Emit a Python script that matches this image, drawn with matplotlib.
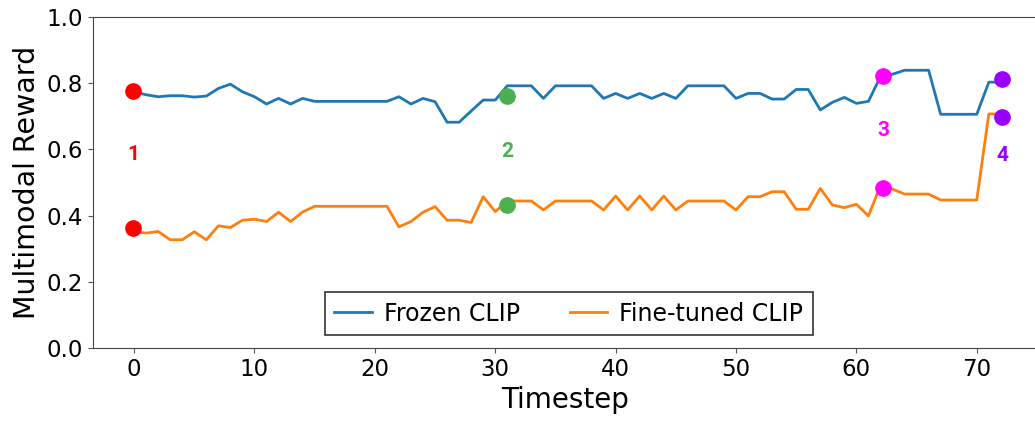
import matplotlib.pyplot as plt

# Multimodal reward per timestep
frozen_clip = [
    0.774, 0.765, 0.759, 0.762, 0.762, 0.758, 0.761, 0.784, 0.797, 0.774,
    0.759, 0.737, 0.754, 0.737, 0.754, 0.745, 0.745, 0.745, 0.745, 0.745,
    0.745, 0.745, 0.759, 0.737, 0.754, 0.744, 0.682, 0.682, 0.716, 0.749,
    0.749, 0.792, 0.792, 0.792, 0.754, 0.792, 0.792, 0.792, 0.792, 0.754,
    0.769, 0.754, 0.769, 0.754, 0.769, 0.754, 0.792, 0.792, 0.792, 0.792,
    0.754, 0.769, 0.769, 0.752, 0.752, 0.781, 0.781, 0.719, 0.742, 0.757,
    0.739, 0.745, 0.820, 0.827, 0.839, 0.839, 0.839, 0.706, 0.706, 0.706,
    0.706, 0.803, 0.803,
]
finetuned_clip = [
    0.352, 0.347, 0.352, 0.327, 0.327, 0.351, 0.327, 0.369, 0.364, 0.386,
    0.389, 0.382, 0.410, 0.382, 0.411, 0.428, 0.428, 0.428, 0.428, 0.428,
    0.428, 0.428, 0.366, 0.382, 0.410, 0.427, 0.386, 0.386, 0.379, 0.457,
    0.412, 0.444, 0.444, 0.444, 0.417, 0.444, 0.444, 0.444, 0.444, 0.417,
    0.459, 0.417, 0.459, 0.417, 0.459, 0.417, 0.444, 0.444, 0.444, 0.444,
    0.417, 0.457, 0.457, 0.472, 0.472, 0.419, 0.419, 0.482, 0.432, 0.424,
    0.434, 0.399, 0.490, 0.480, 0.465, 0.465, 0.465, 0.447, 0.447, 0.447,
    0.447, 0.707, 0.707,
]
timesteps = list(range(len(frozen_clip)))

# highlighted moments
mark_labels = ["1", "2", "3", "4"]
mark_x = [-0.1, 31, 62.2, 72.1]
mark_frozen = [0.775, 0.762, 0.822, 0.812]
mark_finetuned = [0.363, 0.432, 0.482, 0.697]
mark_text_y = [0.583, 0.595, 0.656, 0.580]
mark_colors = ["red", "#4caf50", "magenta", "#9900ff"]

fig = plt.figure(figsize=(10.35, 4.22), dpi=100)
ax = fig.add_axes([0.0899, 0.1754, 0.912, 0.7844])

ax.plot(timesteps, frozen_clip, color="#1f77b4", lw=2, label="Frozen CLIP")
ax.plot(timesteps, finetuned_clip, color="#ff7f0e", lw=2, label="Fine-tuned CLIP")

for lab, x, yf, yt, ty, c in zip(mark_labels, mark_x, mark_frozen, mark_finetuned,
                                 mark_text_y, mark_colors):
    ax.plot([x, x], [yf, yt], "o", color=c, ms=11, zorder=5, linestyle="none")
    ax.text(x, ty, lab, color=c, fontsize=15, fontweight="bold",
            family=["Roboto", "DejaVu Sans"], ha="center", va="center")

ax.set_xlim(-3.41, 75.0)
ax.set_ylim(0, 1.0)
ax.set_xticks(range(0, 71, 10))
ax.set_yticks([0.0, 0.2, 0.4, 0.6, 0.8, 1.0])
ax.tick_params(labelsize=16.5, color="#555555")
for s in ax.spines.values():
    s.set_color("#444444")
ax.set_xlabel("Timestep", fontsize=20)
ax.set_ylabel("Multimodal Reward", fontsize=20.5)

leg = ax.legend(loc="lower center", ncol=2, fontsize=17, fancybox=False,
                edgecolor="black", bbox_to_anchor=(0.504, 0.039),
                borderaxespad=0, handlelength=1.6, handletextpad=0.5,
                columnspacing=2.1, borderpad=0.4)
leg.get_frame().set_linewidth(1.2)

fig.savefig("out.png", dpi=100)
